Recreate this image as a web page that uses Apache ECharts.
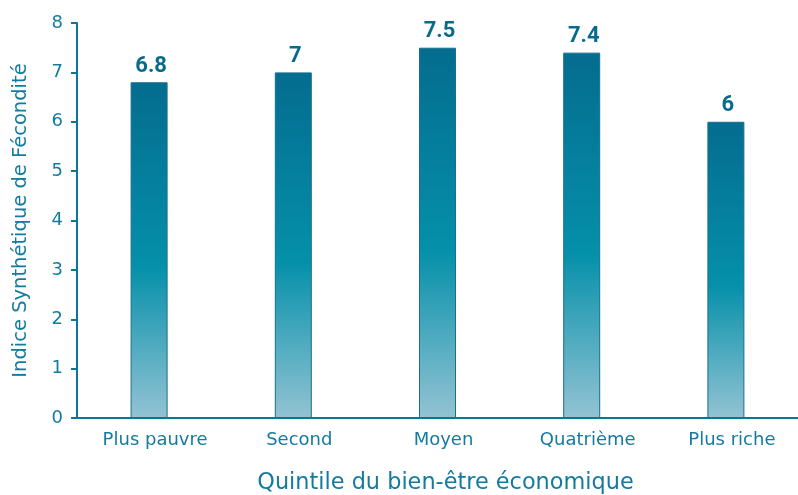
<!DOCTYPE html>
<html>
<head>
<meta charset="utf-8">
<script src="https://cdn.jsdelivr.net/npm/echarts@6/dist/echarts.min.js"></script>
<style>
  html, body { margin: 0; padding: 0; background: #fff; }
  #chart { width: 798px; height: 495px; }
</style>
</head>
<body>
<div id="chart"></div>
<script>
// quintiles and ISF values
const categories = ['Plus pauvre', 'Second', 'Moyen', 'Quatrième', 'Plus riche'];
const isfValues = [6.8, 7, 7.5, 7.4, 6];
const yTicks = [0, 8, 1]; // min, max, interval

const textColor = '#137ba0';
const axisColor = '#0d749a';
const font = 'DejaVu Sans';

let chart = echarts.init(document.getElementById('chart'));

// gradient top -> bottom, the middle teal is a bit below center
let barFill = new echarts.graphic.LinearGradient(0, 0, 0, 1, [
    { offset: 0, color: '#046c8f' },
    { offset: 0.55, color: '#0590aa' },
    { offset: 1, color: '#93c3d3' }
]);

let option = {
    animation: false,
    grid: { left: 77, right: 0, top: 23, bottom: 77, containLabel: false, outerBoundsMode: 'none' },
    xAxis: {
        type: 'category',
        data: categories,
        name: 'Quintile du bien-être économique',
        nameLocation: 'middle',
        nameGap: 54,
        // the original title sits a little right of the plot centre
        nameTextStyle: { color: textColor, fontSize: 22.4, fontFamily: font, padding: [0, 0, 0, 16] },
        axisLine: { lineStyle: { color: axisColor, width: 2 } },
        axisTick: { show: false },
        axisLabel: { color: textColor, fontSize: 18, fontFamily: font, margin: 13, padding: [0, 0, 0, 12] }
    },
    yAxis: {
        type: 'value',
        min: yTicks[0],
        max: yTicks[1],
        interval: yTicks[2],
        name: 'Indice Synthétique de Fécondité',
        nameLocation: 'middle',
        nameGap: 46,
        nameTextStyle: { color: textColor, fontSize: 19.5, fontFamily: font },
        axisLine: { show: true, lineStyle: { color: axisColor, width: 2 } },
        axisTick: { show: true, length: 6, lineStyle: { color: axisColor, width: 2 } },
        axisLabel: { color: textColor, fontSize: 18, fontFamily: font, margin: 14 },
        splitLine: { show: false }
    },
    series: [
        {
            type: 'bar',
            data: isfValues,
            barWidth: 37,
            itemStyle: { color: barFill, borderColor: '#1a6f8c', borderWidth: 1 },
            label: {
                show: true,
                position: 'top',
                distance: 5,
                color: '#0a6a8e',
                fontSize: 22,
                fontWeight: 'bold',
                fontFamily: 'Roboto',
                padding: [0, 0, 0, 4]
            }
        }
    ]
};

chart.setOption(option);
</script>
</body>
</html>
